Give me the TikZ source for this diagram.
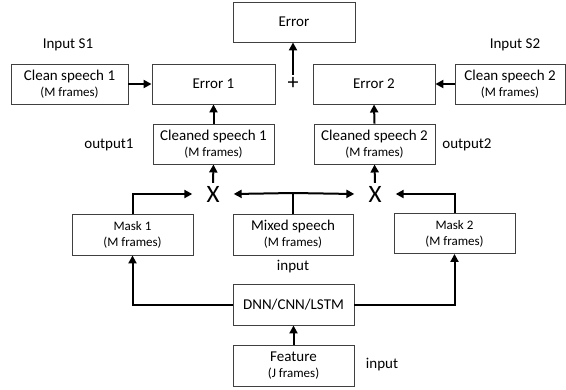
\documentclass[tikz,border=0pt]{standalone}
\usepackage{fontspec}
\setmainfont{Carlito}
\usetikzlibrary{arrows.meta}
\tikzset{
  box/.style={draw=black!75, line width=0.9pt, rectangle, minimum height=40pt, inner sep=0pt, align=center, font=\fontsize{15}{17}\selectfont},
  arr/.style={line width=2pt, -{Triangle[length=8pt,width=8pt]}},
  ln/.style={line width=2pt},
  lbl/.style={font=\fontsize{15}{17}\selectfont, inner sep=0pt},
  mult/.style={font=\fontsize{25}{25}\selectfont, inner xsep=14pt, inner ysep=3pt},
}
\newcommand{\sm}{\fontsize{13}{15}\selectfont}
\begin{document}
\begin{tikzpicture}[x=1pt,y=-1pt]
\useasboundingbox (0,0) rectangle (566,389);
% boxes
\node[box, minimum width=122pt] (err) at (294,22) {Error};
\node[box, minimum width=117pt] (clean1) at (69.5,84) {Clean speech 1\\[-1pt]{\sm (M frames)}};
\node[box, minimum width=123pt] (err1) at (213.5,84) {Error 1};
\node[box, minimum width=122pt] (err2) at (374,84) {Error 2};
\node[box, minimum width=110pt] (clean2) at (510,84) {Clean speech 2\\[-1pt]{\sm (M frames)}};
\node[box, minimum width=121pt] (cl1) at (213.5,144) {Cleaned speech 1\\[-1pt]{\sm (M frames)}};
\node[box, minimum width=121pt] (cl2) at (374.5,144) {Cleaned speech 2\\[-1pt]{\sm (M frames)}};
\node[box, minimum width=121pt, minimum height=41pt] (mask1) at (132.5,234.5) {\sm Mask 1\\[-1pt]\sm (M frames)};
\node[box, minimum width=120pt, minimum height=41pt] (mixed) at (293,234.5) {Mixed speech\\[-1pt]{\sm (M frames)}};
\node[box, minimum width=121pt] (mask2) at (454.5,233.5) {\sm Mask 2\\[-1pt]\sm (M frames)};
\node[box, minimum width=121pt, minimum height=41pt] (dnn) at (293.5,304.5) {DNN/CNN/LSTM};
\node[box, minimum width=121pt, minimum height=41pt] (feat) at (293.5,365.5) {Feature\\[-1pt]{\sm (J frames)}};
% operators
\node[mult] (x1) at (213,194) {X};
\node[mult] (x2) at (375,194) {X};
\node[font=\fontsize{22}{22}\selectfont, inner sep=2pt] (plus) at (293,83) {+};
\coordinate (mixtop) at (293,193);
% labels
\node[lbl] (ins1) at (68,45) {Input S1};
\node[lbl] (ins2) at (515,45) {Input S2};
\node[lbl] (out1) at (109,145) {output1};
\node[lbl] (out2) at (467,145) {output2};
\node[lbl] (inmix) at (293,267) {input};
\node[lbl] (infeat) at (382,365) {input};
% connectors
\draw[arr] (plus.north) -- (plus.north |- err.south);
\draw[arr] (clean1.east) -- (err1.west);
\draw[arr] (clean2.west) -- (err2.east);
\draw[arr] (cl1.north) -- (err1.south);
\draw[arr] (cl2.north) -- (err2.south);
\draw[arr] (x1.north) -- (cl1.south);
\draw[arr] (x2.north) -- (cl2.south);
\draw[arr] (mask1.north) |- (x1.west);
\draw[arr] (mask2.north) |- (x2.east);
\draw[ln] (mixed.north) -- (mixtop);
\draw[arr] (mixtop) -- (x1.east);
\draw[arr] (mixtop) -- (x2.west);
\draw[arr] (dnn.west) -| (mask1.south);
\draw[arr] (dnn.east) -| (mask2.south);
\draw[arr] (feat.north) -- (dnn.south);
\end{tikzpicture}
\end{document}
